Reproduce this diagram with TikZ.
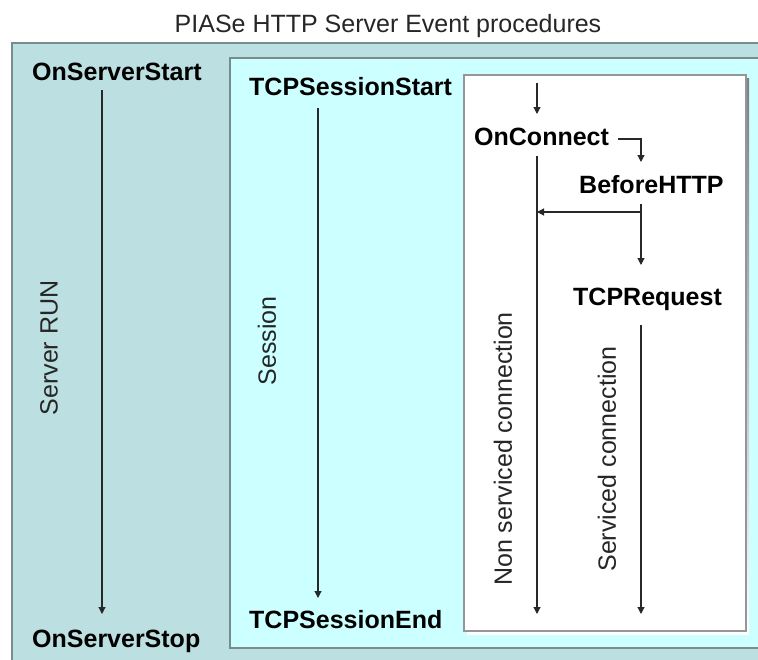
\documentclass[tikz,border=0pt]{standalone}
\usepackage{fontspec}
\setmainfont{Liberation Sans}
\usetikzlibrary{arrows.meta}
\definecolor{outerfill}{RGB}{188,223,225}
\definecolor{midfill}{RGB}{204,255,255}
\definecolor{boxline}{RGB}{120,140,140}
\definecolor{wline}{RGB}{150,150,150}
\definecolor{shade}{RGB}{140,150,150}
\definecolor{conn}{RGB}{40,40,40}
\tikzset{
  lbl/.style={font=\fontsize{25}{30}\selectfont\bfseries, inner sep=0pt, anchor=base west, text=black},
  vlbl/.style={font=\fontsize{25}{30}\selectfont, inner sep=0pt, rotate=90, anchor=center, text=black!85},
  arr/.style={draw=conn, line width=1.1pt, -{Triangle[length=7pt,width=7pt]}},
  ln/.style={draw=conn, line width=1.1pt}
}
\begin{document}
\begin{tikzpicture}[x=1pt,y=-1pt]
\useasboundingbox (0,0) rectangle (758,659);
\clip (0,0) rectangle (758,659);
\fill[white] (0,0) rectangle (758,659);
% boxes
\filldraw[fill=outerfill, draw=boxline, line width=2pt] (12,43) -- (790,43) -- (790,690) -- (12,690) -- cycle;
\filldraw[fill=midfill, draw=boxline, line width=1.6pt] (230,58) -- (790,58) -- (790,648) -- (230,648) -- cycle;
\fill[shade] (467,78) rectangle (749,634);
\filldraw[fill=white, draw=wline, line width=1.2pt] (464,75) rectangle (746,631);
% title
\node[font=\fontsize{25}{30}\selectfont, inner sep=0pt, anchor=base, text=black!85] (title) at (388,32) {PIASe HTTP Server Event procedures};
% labels
\node[lbl] (ostart) at (32,80) {OnServerStart};
\node[lbl] (ostop) at (32,647) {OnServerStop};
\node[lbl] (tstart) at (249,95) {TCPSessionStart};
\node[lbl] (tend) at (249,628) {TCPSessionEnd};
\node[lbl] (oconn) at (474,145) {OnConnect};
\node[lbl] (bhttp) at (579,193) {BeforeHTTP};
\node[lbl] (treq) at (573,305) {TCPRequest};
\node[vlbl] (srun) at (49,348) {Server RUN};
\node[vlbl] (sess) at (267,341) {Session};
\node[vlbl] (nsc) at (503,449) {Non serviced connection};
\node[vlbl] (sc) at (607,459) {Serviced connection};
% connector end points
\coordinate (a1s) at (102,90);  \coordinate (a1e) at (102,614);
\coordinate (a2s) at (318,108); \coordinate (a2e) at (318,598);
\coordinate (a3s) at (537,83);  \coordinate (a3e) at (537,114);
\coordinate (a4s) at (618,139); \coordinate (a4k) at (641,139); \coordinate (a4e) at (641,162);
\coordinate (a5s) at (537,156); \coordinate (a5e) at (537,614);
\coordinate (a6s) at (641,204); \coordinate (a6e) at (641,265);
\coordinate (a7s) at (641,212); \coordinate (a7e) at (537,212);
\coordinate (a8s) at (641,325); \coordinate (a8e) at (641,614);
% connectors
\draw[arr] (a1s) -- (a1e);
\draw[arr] (a2s) -- (a2e);
\draw[arr] (a3s) -- (a3e);
\draw[arr] (a4s) -- (a4k) -- (a4e);
\draw[arr] (a5s) -- (a5e);
\draw[arr] (a6s) -- (a6e);
\draw[arr] (a7s) -- (a7e);
\draw[arr] (a8s) -- (a8e);
\end{tikzpicture}
\end{document}
